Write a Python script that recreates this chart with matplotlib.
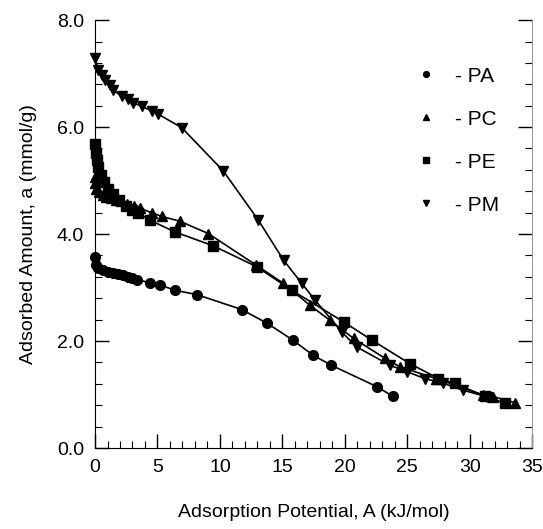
import numpy as np
import matplotlib.pyplot as plt
from matplotlib.ticker import MultipleLocator

plt.rcParams['font.family'] = ['Liberation Sans', 'DejaVu Sans']

# PA - circles
pa_x = [0.0, 0.08, 0.27, 0.66, 1.07, 1.47, 1.87, 2.27, 2.67, 2.94, 3.34, 4.4, 5.2,
        6.4, 8.14, 11.74, 13.8, 15.83, 17.43, 18.9, 22.55, 23.83]
pa_y = [3.58, 3.42, 3.36, 3.33, 3.30, 3.27, 3.25, 3.23, 3.20, 3.18, 3.15, 3.09, 3.05,
        2.95, 2.87, 2.59, 2.33, 2.02, 1.74, 1.55, 1.15, 0.97]

# PC - up triangles
pc_x = [0.0, 0.0, 0.1, 0.3, 0.6, 0.9, 1.3, 1.7, 2.1, 2.6, 3.1, 3.6, 4.54, 5.34, 6.8,
        9.07, 12.9, 15.08, 17.2, 18.8, 20.7, 23.2, 24.4, 27.3, 31.1, 31.9, 33.6]
pc_y = [5.07, 4.95, 4.85, 4.78, 4.73, 4.70, 4.67, 4.64, 4.61, 4.57, 4.53, 4.48, 4.40, 4.33, 4.24,
        4.01, 3.42, 3.08, 2.67, 2.39, 2.05, 1.68, 1.52, 1.30, 0.99, 0.96, 0.85]

# PE - squares
pe_x = [0.0, 0.05, 0.13, 0.25, 0.45, 0.7, 1.0, 1.4, 1.9, 2.5, 3.0, 3.47, 4.4, 6.4, 9.47,
        12.95, 15.75, 19.9, 22.15, 25.2, 27.5, 28.8, 31.2, 32.8]
pe_y = [5.69, 5.51, 5.38, 5.26, 5.10, 4.97, 4.85, 4.74, 4.63, 4.53, 4.45, 4.39, 4.26, 4.04, 3.78,
        3.39, 2.95, 2.36, 2.02, 1.58, 1.30, 1.21, 0.97, 0.84]

# PM - down triangles
pm_x = [0.0, 0.27, 0.53, 0.8, 1.2, 1.45, 2.13, 2.67, 3.07, 3.74, 4.54, 5.07, 6.94, 10.27,
        13.08, 15.1, 16.55, 17.6, 19.75, 20.95, 23.6, 24.95, 26.4, 27.9, 29.5, 31.35]
pm_y = [7.29, 7.07, 6.97, 6.88, 6.79, 6.69, 6.58, 6.52, 6.45, 6.39, 6.30, 6.24, 5.99, 5.18,
        4.26, 3.51, 3.08, 2.77, 2.17, 1.89, 1.55, 1.43, 1.30, 1.21, 1.08, 0.96]

fig = plt.figure(figsize=(5.43, 5.29), dpi=100)
ax = fig.add_axes([0.175, 0.153, 0.805, 0.809])

series = [(pa_x, pa_y, 'o', '- PA'), (pc_x, pc_y, '^', '- PC'),
          (pe_x, pe_y, 's', '- PE'), (pm_x, pm_y, 'v', '- PM')]
for xs, ys, m, lab in series:
    ax.plot(xs, ys, color='black', lw=1.2, marker=m, ms=7, mfc='black', mec='black',
            label=lab, clip_on=False)

ax.set_xlim(0, 35)
ax.set_ylim(0, 8)
ax.xaxis.set_major_locator(MultipleLocator(5))
ax.xaxis.set_minor_locator(MultipleLocator(1))
ax.yaxis.set_major_locator(MultipleLocator(2))
ax.yaxis.set_minor_locator(MultipleLocator(0.4))
ax.set_yticklabels([f'{v:.1f}' for v in ax.get_yticks()])
ax.tick_params(which='both', direction='in', right=True, labelsize=14)
ax.tick_params(which='major', length=10, width=1, pad=8)
ax.tick_params(which='minor', length=5, width=0.8)
ax.spines['top'].set_visible(False)
ax.spines['right'].set_color('#999999')

ax.set_xlabel('Adsorption Potential, A (kJ/mol)', fontsize=14, labelpad=20)
ax.set_ylabel('Adsorbed Amount, a (mmol/g)', fontsize=14, labelpad=14)

leg = ax.legend(loc='upper left', bbox_to_anchor=(0.695, 0.935), frameon=False,
                fontsize=15, markerscale=0.6, handlelength=0.8, handletextpad=1.0,
                labelspacing=1.15)
for line in leg.get_lines():
    line.set_linestyle('none')

fig.savefig('out.png', dpi=100)
